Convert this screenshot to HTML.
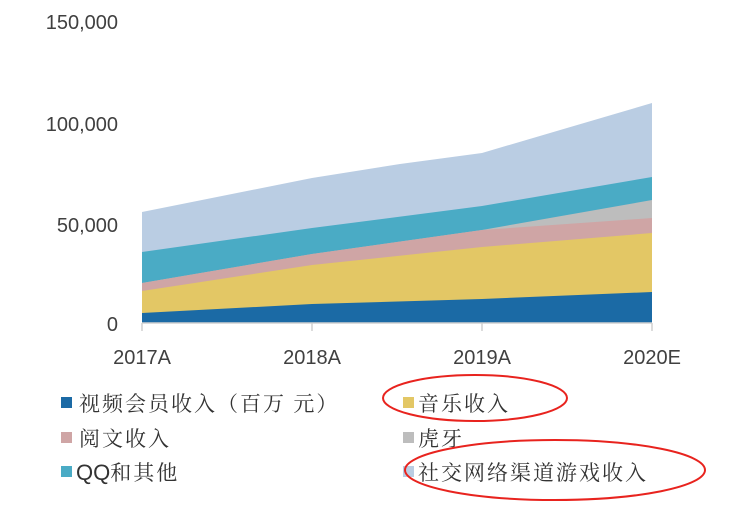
<!DOCTYPE html>
<html><head><meta charset="utf-8"><style>body{margin:0;background:#fff}</style></head><body>
<svg width="732" height="506" xmlns="http://www.w3.org/2000/svg" font-family="Liberation Sans, Noto Sans CJK SC, sans-serif">
<g font-size="20" fill="#404040" text-anchor="end">
<text x="118" y="29">150,000</text>
<text x="118" y="131">100,000</text>
<text x="118" y="232">50,000</text>
<text x="118" y="331">0</text>
</g>
<polygon fill="#BACDE3" points="142,212 312,178 400,164 482,153 652,103 652,323 142,323"/>
<polygon fill="#4AABC5" points="142,252 312,228 482,206 652,177 652,323 142,323"/>
<polygon fill="#BDBDBD" points="142,283 312,254 482,230 652,200 652,323 142,323"/>
<polygon fill="#CFA5A5" points="142,283 312,254 482,230 652,218 652,323 142,323"/>
<polygon fill="#E3C765" points="142,291 312,265 482,247 652,233 652,323 142,323"/>
<polygon fill="#1B6AA5" points="142,313 312,304 482,299 652,292 652,323 142,323"/>
<g stroke="#d0d0d0" stroke-width="1.5"><line x1="142" y1="323" x2="652" y2="323"/>
<line x1="142" y1="323" x2="142" y2="331"/><line x1="312" y1="323" x2="312" y2="331"/><line x1="482" y1="323" x2="482" y2="331"/><line x1="652" y1="323" x2="652" y2="331"/></g>
<g font-size="20" fill="#404040" text-anchor="middle">
<text x="142" y="364">2017A</text><text x="312" y="364">2018A</text><text x="482" y="364">2019A</text><text x="652" y="364">2020E</text>
</g>
<g font-size="21" fill="#333" letter-spacing="2" font-family="Noto Serif CJK SC, WenQuanYi Zen Hei, serif">
<rect x="61" y="397" width="11" height="11" fill="#1B6AA5"/><text x="79" y="411">视频会员收入（百万 元）</text>
<rect x="403" y="397" width="11" height="11" fill="#E3C765"/><text x="418" y="411">音乐收入</text>
<rect x="61" y="432" width="11" height="11" fill="#CFA5A5"/><text x="79" y="446">阅文收入</text>
<rect x="403" y="432" width="11" height="11" fill="#BDBDBD"/><text x="418" y="446">虎牙</text>
<rect x="61" y="466" width="11" height="11" fill="#4AABC5"/><text x="76" y="480" letter-spacing="0" font-family="Liberation Sans, sans-serif" font-size="22">QQ<tspan font-family="Noto Serif CJK SC, WenQuanYi Zen Hei, serif" font-size="21" letter-spacing="2">和其他</tspan></text>
<rect x="403" y="466" width="11" height="11" fill="#BACDE3"/><text x="418" y="480">社交网络渠道游戏收入</text>
</g>
<ellipse cx="475" cy="398" rx="92" ry="23" fill="none" stroke="#E8231E" stroke-width="2"/>
<ellipse cx="555" cy="470" rx="150" ry="30" fill="none" stroke="#E8231E" stroke-width="2"/>
</svg>
</body></html>
